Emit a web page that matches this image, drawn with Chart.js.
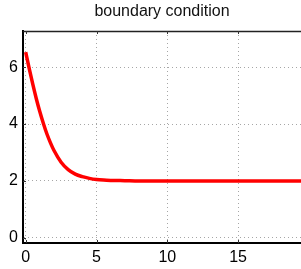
<!DOCTYPE html>
<html>
<head>
<meta charset="utf-8">
<script src="https://cdn.jsdelivr.net/npm/chart.js@4/dist/chart.umd.min.js"></script>
<style>
  html, body { margin: 0; padding: 0; background: #fff; }
  #wrap { width: 301px; height: 269px; }
</style>
</head>
<body>
<div id="wrap"><canvas id="c" width="301" height="269"></canvas></div>
<script>
// values
var titleText = 'boundary condition';
var xs = [0, 0.25, 0.5, 0.75, 1, 1.25, 1.5, 1.75, 2, 2.5, 3, 3.5, 4, 4.5, 5, 5.5, 6, 7, 8, 9, 10, 12, 14, 16, 18, 20];
var ys = [6.53, 5.95, 5.40, 4.89, 4.43, 4.02, 3.65, 3.34, 3.07, 2.66, 2.40, 2.24, 2.15, 2.09, 2.05, 2.03, 2.02, 2.01, 2, 2, 2, 2, 2, 2, 2, 2];
var xRange = [-0.19, 19.44];
var yRange = [-0.18, 7.27];
var xStep = 5;
var yStep = 2;

var FONT = "'Liberation Sans', Arial, Helvetica, sans-serif";

var points = xs.map(function(x, i) { return {x: x, y: ys[i]}; });

// title centred over the plot area, plus the top frame line and inner ticks
var framePlugin = {
    id: 'frame',
    afterDraw: function(chart) {
        var ctx = chart.ctx;
        var a = chart.chartArea;
        var sx = chart.scales.x, sy = chart.scales.y;
        ctx.save();
        // top border
        ctx.strokeStyle = '#222';
        ctx.lineWidth = 1.5;
        ctx.beginPath();
        ctx.moveTo(a.left, a.top + 0.5);
        ctx.lineTo(a.right, a.top + 0.5);
        ctx.stroke();
        // small inward tick marks
        ctx.lineWidth = 1;
        ctx.strokeStyle = '#333';
        ctx.beginPath();
        sx.ticks.forEach(function(t) {
            var px = Math.round(sx.getPixelForValue(t.value)) + 0.5;
            ctx.moveTo(px, a.top); ctx.lineTo(px, a.top + 3);
            ctx.moveTo(px, a.bottom); ctx.lineTo(px, a.bottom - 3);
        });
        sy.ticks.forEach(function(t) {
            var py = Math.round(sy.getPixelForValue(t.value)) + 0.5;
            ctx.moveTo(a.left, py); ctx.lineTo(a.left + 3, py);
        });
        ctx.stroke();
        // title
        ctx.fillStyle = '#111';
        ctx.font = '16px ' + FONT;
        ctx.textAlign = 'center';
        ctx.textBaseline = 'alphabetic';
        ctx.fillText(titleText, (a.left + a.right) / 2, 16);
        ctx.restore();
    }
};

var gridOpts = {
    color: 'rgba(0,0,0,0.35)',
    lineWidth: 1,
    drawTicks: false
};

new Chart(document.getElementById('c').getContext('2d'), {
    type: 'line',
    data: {
        datasets: [{
            data: points,
            borderColor: '#ff0000',
            borderWidth: 3.5,
            pointRadius: 0,
            fill: false,
            cubicInterpolationMode: 'monotone'
        }]
    },
    options: {
        responsive: false,
        animation: false,
        layout: { padding: { top: 31, left: 0, right: 0, bottom: 0 } },
        plugins: {
            legend: { display: false },
            title: { display: false },
            tooltip: { enabled: false }
        },
        scales: {
            x: {
                type: 'linear',
                min: xRange[0],
                max: xRange[1],
                grid: gridOpts,
                border: { display: true, color: '#000', width: 2, dash: [1, 3] },
                ticks: {
                    stepSize: xStep,
                    includeBounds: false,
                    padding: 5,
                    color: '#000',
                    maxRotation: 0,
                    font: { family: FONT, size: 16 }
                },
                afterFit: function(scale) { scale.height = 26; }
            },
            y: {
                type: 'linear',
                min: yRange[0],
                max: yRange[1],
                grid: gridOpts,
                border: { display: true, color: '#000', width: 2, dash: [1, 3] },
                ticks: {
                    stepSize: yStep,
                    includeBounds: false,
                    padding: 5,
                    color: '#000',
                    font: { family: FONT, size: 16 }
                },
                afterFit: function(scale) { scale.width = 23; }
            }
        }
    },
    plugins: [framePlugin]
});
</script>
</body>
</html>
